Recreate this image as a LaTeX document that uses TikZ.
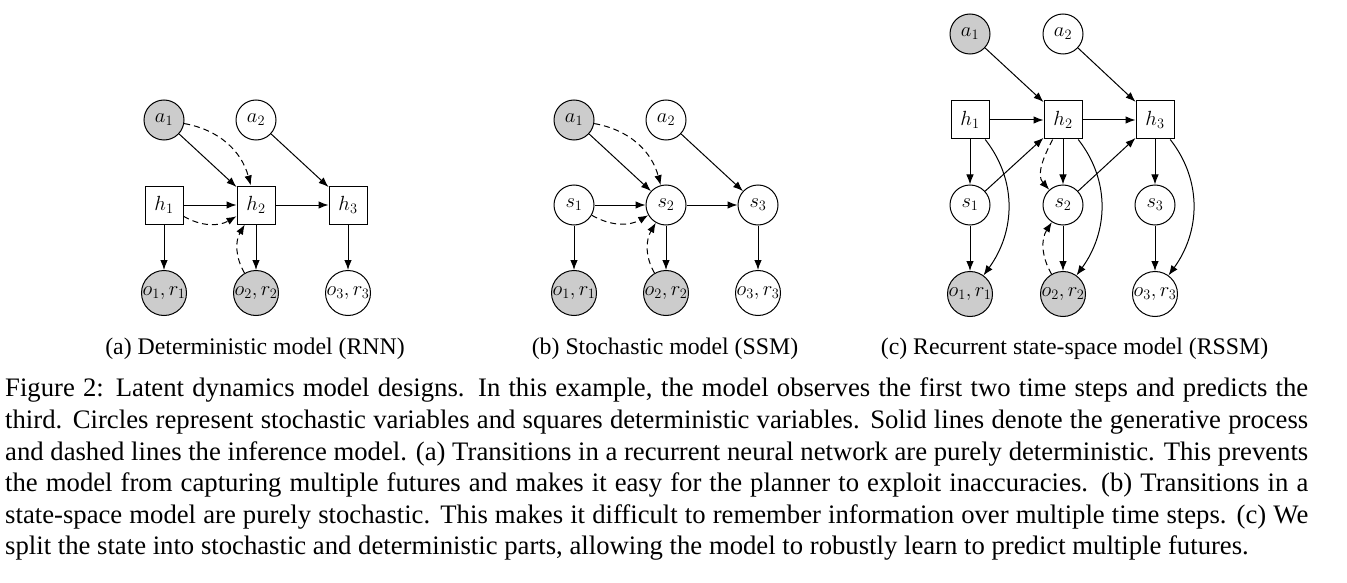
\RequirePackage{fix-cm}
\documentclass[tikz,border=0pt]{standalone}
\usepackage[no-math]{fontspec}
\setmainfont{Liberation Serif}
\usetikzlibrary{arrows.meta}
\tikzset{
  lw/.style={line width=1pt},
  mathfont/.style={font=\fontsize{20.5}{24}\selectfont},
  var/.style={circle, draw, lw, minimum size=40pt, inner sep=0pt, mathfont},
  obsvar/.style={var, fill=gray!40},
  detvar/.style={rectangle, draw, lw, minimum size=38pt, inner sep=0pt, mathfont},
  outvar/.style={var, minimum size=45pt},
  obsout/.style={outvar, fill=gray!40},
  arr/.style={lw, -{Latex[length=10pt,width=7.5pt]}},
  infarr/.style={arr, dash pattern=on 6pt off 4pt},
  subcap/.style={inner sep=0pt, anchor=base, font=\fontsize{23.8}{27}\selectfont},
  capline/.style={inner sep=0pt, anchor=base west, font=\fontsize{26.7}{31.6}\selectfont}
}
\newcommand{\ctr}[1]{\makebox[0pt]{#1}}
\begin{document}
\begin{tikzpicture}[x=1pt,y=1pt]
\useasboundingbox (0,0) rectangle (1347,-583);
% ---------- (a) ----------
\node[obsvar] (aa1) at (164,-120) {$a_1$};
\node[var]    (aa2) at (256,-120) {$a_2$};
\node[detvar] (ah1) at (164,-205) {$h_1$};
\node[detvar] (ah2) at (256,-205) {$h_2$};
\node[detvar] (ah3) at (348,-205) {$h_3$};
\node[obsout] (ao1) at (164,-293) {\ctr{$o_1,r_1$}};
\node[obsout] (ao2) at (256,-293) {\ctr{$o_2,r_2$}};
\node[outvar] (ao3) at (348,-293) {\ctr{$o_3,r_3$}};
\draw[arr] (aa1) -- (ah2);
\draw[arr] (aa2) -- (ah3);
\draw[arr] (ah1) -- (ah2);
\draw[arr] (ah2) -- (ah3);
\draw[arr] (ah1) -- (ao1);
\draw[arr] (ah2) -- (ao2);
\draw[arr] (ah3) -- (ao3);
\draw[infarr] (aa1) to[out=-10,in=105] (ah2);
\draw[infarr] (ah1) to[out=-30,in=210] (ah2);
\draw[infarr] (ao2) to[out=120,in=240] (ah2);
\node[subcap] (capa) at (255,-354.3) {(a) Deterministic model (RNN)};
% ---------- (b) ----------
\node[obsvar] (ba1) at (574,-120) {$a_1$};
\node[var]    (ba2) at (666,-120) {$a_2$};
\node[var]    (bs1) at (574,-205) {$s_1$};
\node[var]    (bs2) at (666,-205) {$s_2$};
\node[var]    (bs3) at (758,-205) {$s_3$};
\node[obsout] (bo1) at (574,-293) {\ctr{$o_1,r_1$}};
\node[obsout] (bo2) at (666,-293) {\ctr{$o_2,r_2$}};
\node[outvar] (bo3) at (758,-293) {\ctr{$o_3,r_3$}};
\draw[arr] (ba1) -- (bs2);
\draw[arr] (ba2) -- (bs3);
\draw[arr] (bs1) -- (bs2);
\draw[arr] (bs2) -- (bs3);
\draw[arr] (bs1) -- (bo1);
\draw[arr] (bs2) -- (bo2);
\draw[arr] (bs3) -- (bo3);
\draw[infarr] (ba1) to[out=-10,in=105] (bs2);
\draw[infarr] (bs1) to[out=-30,in=210] (bs2);
\draw[infarr] (bo2) to[out=120,in=240] (bs2);
\node[subcap] (capb) at (665,-354.3) {(b) Stochastic model (SSM)};
% ---------- (c) ----------
\node[obsvar] (ca1) at (970,-34) {$a_1$};
\node[var]    (ca2) at (1063,-34) {$a_2$};
\node[detvar] (ch1) at (970,-120) {$h_1$};
\node[detvar] (ch2) at (1063,-120) {$h_2$};
\node[detvar] (ch3) at (1155,-120) {$h_3$};
\node[var]    (cs1) at (970,-205) {$s_1$};
\node[var]    (cs2) at (1063,-205) {$s_2$};
\node[var]    (cs3) at (1155,-205) {$s_3$};
\node[obsout] (co1) at (970,-294) {\ctr{$o_1,r_1$}};
\node[obsout] (co2) at (1063,-294) {\ctr{$o_2,r_2$}};
\node[outvar] (co3) at (1155,-294) {\ctr{$o_3,r_3$}};
\draw[arr] (ca1) -- (ch2);
\draw[arr] (ca2) -- (ch3);
\draw[arr] (ch1) -- (ch2);
\draw[arr] (ch2) -- (ch3);
\draw[arr] (ch1) -- (cs1);
\draw[arr] (ch2) -- (cs2);
\draw[arr] (ch3) -- (cs3);
\draw[arr] (cs1) -- (ch2);
\draw[arr] (cs2) -- (ch3);
\draw[arr] (cs1) -- (co1);
\draw[arr] (cs2) -- (co2);
\draw[arr] (cs3) -- (co3);
\draw[arr] (ch1) to[out=-52,in=54] (co1);
\draw[arr] (ch2) to[out=-52,in=54] (co2);
\draw[arr] (ch3) to[out=-52,in=54] (co3);
\draw[infarr] (ch2) to[out=-118,in=132] (cs2);
\draw[infarr] (co2) to[out=120,in=237] (cs2);
\node[subcap] (capc) at (1074.5,-354.3) {(c) Recurrent state-space model (RSSM)};
% ---------- caption ----------
\node[capline] (cap1) at (5,-396.7) {\makebox[1303pt][s]{Figure 2: Latent dynamics model designs. In this example, the model observes the first two time steps and predicts the}};
\node[capline] (cap2) at (5,-428.3) {\makebox[1303pt][s]{third. Circles represent stochastic variables and squares deterministic variables. Solid lines denote the generative process}};
\node[capline] (cap3) at (5,-460) {\makebox[1303pt][s]{and dashed lines the inference model. (a) Transitions in a recurrent neural network are purely deterministic. This prevents}};
\node[capline] (cap4) at (5,-491.6) {\makebox[1303pt][s]{the model from capturing multiple futures and makes it easy for the planner to exploit inaccuracies. (b) Transitions in a}};
\node[capline] (cap5) at (5,-523.2) {\makebox[1303pt][s]{state-space model are purely stochastic. This makes it difficult to remember information over multiple time steps. (c) We}};
\node[capline] (cap6) at (5,-554.8) {split the state into stochastic and deterministic parts, allowing the model to robustly learn to predict multiple futures.};
\end{tikzpicture}
\end{document}
